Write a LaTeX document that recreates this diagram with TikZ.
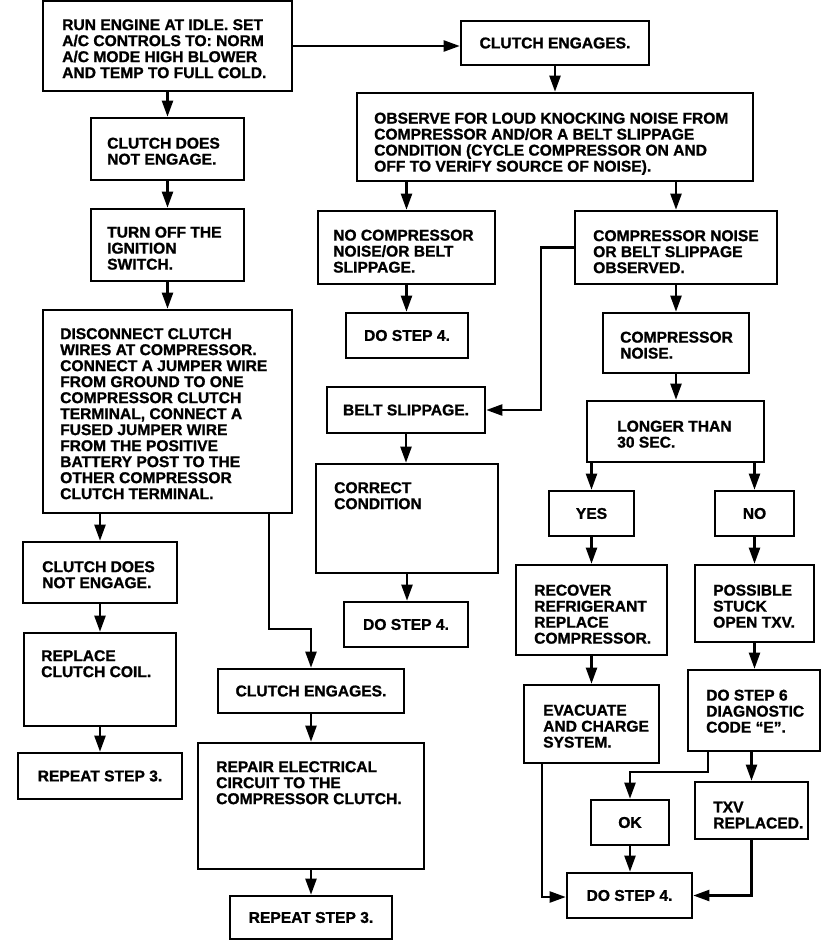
\documentclass[tikz,border=0pt]{standalone}
\usepackage{fontspec}
\setmainfont{Liberation Sans}[BoldFeatures={FakeBold=1.2}]
\usetikzlibrary{arrows.meta}
\newcommand\txtfont{\bfseries\fontsize{15.6}{16}\selectfont}
\tikzset{
  box/.style={draw, line width=2.6pt, inner sep=0pt, font=\txtfont, align=center},
  tx/.style={anchor=north west, inner sep=0pt, align=left, font=\txtfont},
  arr/.style={line width=2.2pt, -{Triangle[length=16pt,width=11pt]}},
}
\newcommand\bx[6]{\node[box,minimum width={#4pt-#2pt},minimum height={#5pt-#3pt}] (#1) at ({(#2+#4)/2},{(#3+#5)/2}) {#6};}
\begin{document}
\begin{tikzpicture}[x=1pt,y=-1pt]
\useasboundingbox[fill=white] (0,0) rectangle (832,942);
% boxes
\bx{b1}{43}{1}{292}{91}{}
\bx{ce1}{461}{21}{649}{65}{CLUTCH ENGAGES.}
\bx{b3}{91}{118}{244}{180}{}
\bx{b4}{91}{209}{244}{281}{}
\bx{b5}{43}{310}{292}{513}{}
\bx{b6}{23}{542}{177}{603}{}
\bx{b7}{24}{633}{176}{726}{}
\bx{b8}{18}{753}{182}{799}{REPEAT STEP 3.}
\bx{b10}{218}{669}{404}{713}{CLUTCH ENGAGES.}
\bx{b11}{198}{743}{424}{869}{}
\bx{b12}{230}{896}{392}{939}{REPEAT STEP 3.}
\bx{b13}{357}{93}{753}{181}{}
\bx{b14}{318}{211}{495}{284}{}
\bx{b15}{346}{313}{468}{358}{DO STEP 4.}
\bx{b16}{575}{211}{777}{284}{}
\bx{b18}{327}{387}{485}{433}{BELT SLIPPAGE.}
\bx{b19}{316}{464}{498}{573}{}
\bx{b20}{344}{602}{468}{647}{DO STEP 4.}
\bx{b21}{603}{313}{749}{373}{}
\bx{b22}{587}{401}{764}{462}{}
\bx{b23}{549}{491}{634}{536}{YES}
\bx{b24}{715}{491}{794}{536}{NO}
\bx{b25}{516}{565}{667}{655}{}
\bx{b26}{695}{565}{814}{642}{}
\bx{b27}{524}{685}{659}{763}{}
\bx{b28}{688}{670}{820}{751}{}
\bx{b29}{591}{800}{669}{845}{OK}
\bx{b30}{695}{782}{808}{839}{}
\bx{b31}{567}{873}{692}{918}{DO STEP 4.}
% texts
\node[tx] (t1) at (62,19) {RUN ENGINE AT IDLE. SET\\A/C CONTROLS TO: NORM\\A/C MODE HIGH BLOWER\\AND TEMP TO FULL COLD.};
\node[tx] (t3) at (107,137.5) {CLUTCH DOES\\NOT ENGAGE.};
\node[tx] (t4) at (107,226.5) {TURN OFF THE\\IGNITION\\SWITCH.};
\node[tx] (t5) at (60,328) {DISCONNECT CLUTCH\\WIRES AT COMPRESSOR.\\CONNECT A JUMPER WIRE\\FROM GROUND TO ONE\\COMPRESSOR CLUTCH\\TERMINAL, CONNECT A\\FUSED JUMPER WIRE\\FROM THE POSITIVE\\BATTERY POST TO THE\\OTHER COMPRESSOR\\CLUTCH TERMINAL.};
\node[tx] (t6) at (42,561) {CLUTCH DOES\\NOT ENGAGE.};
\node[tx] (t7) at (41,650) {REPLACE\\CLUTCH COIL.};
\node[tx] (t11) at (216,761) {REPAIR ELECTRICAL\\CIRCUIT TO THE\\COMPRESSOR CLUTCH.};
\node[tx] (t13) at (374,112.5) {OBSERVE FOR LOUD KNOCKING NOISE FROM\\COMPRESSOR AND/OR A BELT SLIPPAGE\\CONDITION (CYCLE COMPRESSOR ON AND\\OFF TO VERIFY SOURCE OF NOISE).};
\node[tx] (t14) at (333,229.5) {NO COMPRESSOR\\NOISE/OR BELT\\SLIPPAGE.};
\node[tx] (t16) at (593,230) {COMPRESSOR NOISE\\OR BELT SLIPPAGE\\OBSERVED.};
\node[tx] (t19) at (334,482) {CORRECT\\CONDITION};
\node[tx] (t21) at (620,331.5) {COMPRESSOR\\NOISE.};
\node[tx] (t22) at (617,420.5) {LONGER THAN\\30 SEC.};
\node[tx] (t25) at (534,584.5) {RECOVER\\REFRIGERANT\\REPLACE\\COMPRESSOR.};
\node[tx] (t26) at (713,584.5) {POSSIBLE\\STUCK\\OPEN TXV.};
\node[tx] (t27) at (543,704.5) {EVACUATE\\AND CHARGE\\SYSTEM.};
\node[tx] (t28) at (706,689.5) {DO STEP 6\\DIAGNOSTIC\\CODE “E”.};
\node[tx] (t30) at (713,801.5) {TXV\\REPLACED.};
% junctions
\coordinate (j1) at (269,629);
\coordinate (j2) at (541,410);
\coordinate (j3) at (708,772);
\coordinate (j4) at (542,897);
% connectors
\draw[arr] (b1.east) -- (b1.east -| ce1.west);
\draw[arr] (b1.south) -- (b3.north);
\draw[arr] (b3.south) -- (b4.north);
\draw[arr] (b4.south) -- (b5.north);
\draw[arr] (b6.north |- b5.south) -- (b6.north);
\draw[arr] (b6.south) -- (b7.north);
\draw[arr] (b7.south) -- (b8.north);
\draw[arr] (b5.south -| j1) -- (j1) -| (b10.north);
\draw[arr] (b10.south) -- (b11.north);
\draw[arr] (b11.south) -- (b12.north);
\draw[arr] (ce1.south) -- (ce1.south |- b13.north);
\draw[arr] (b14.north |- b13.south) -- (b14.north);
\draw[arr] (b16.north |- b13.south) -- (b16.north);
\draw[arr] (b14.south) -- (b14.south |- b15.north);
\draw[arr] (b16.west) -| (j2) -- (b18.east);
\draw[arr] (b18.south) -- (b18.south |- b19.north);
\draw[arr] (b19.south) -- (b19.south |- b20.north);
\draw[arr] (b16.south) -- (b16.south |- b21.north);
\draw[arr] (b21.south) -- (b21.south |- b22.north);
\draw[arr] (b23.north |- b22.south) -- (b23.north);
\draw[arr] (b24.north |- b22.south) -- (b24.north);
\draw[arr] (b23.south) -- (b23.south |- b25.north);
\draw[arr] (b24.south) -- (b24.south |- b26.north);
\draw[arr] (b25.south) -- (b25.south |- b27.north);
\draw[arr] (b26.south) -- (b26.south |- b28.north);
\draw[arr] (b30.north |- b28.south) -- (b30.north);
\draw[arr] (b28.south -| j3) -- (j3) -| (b29.north);
\draw[arr] (b29.south) -- (b29.south |- b31.north);
\draw[arr] (b27.south -| j4) -- (j4) -- (j4 -| b31.west);
\draw[arr] (b30.south) |- (b31.east);
\end{tikzpicture}
\end{document}
